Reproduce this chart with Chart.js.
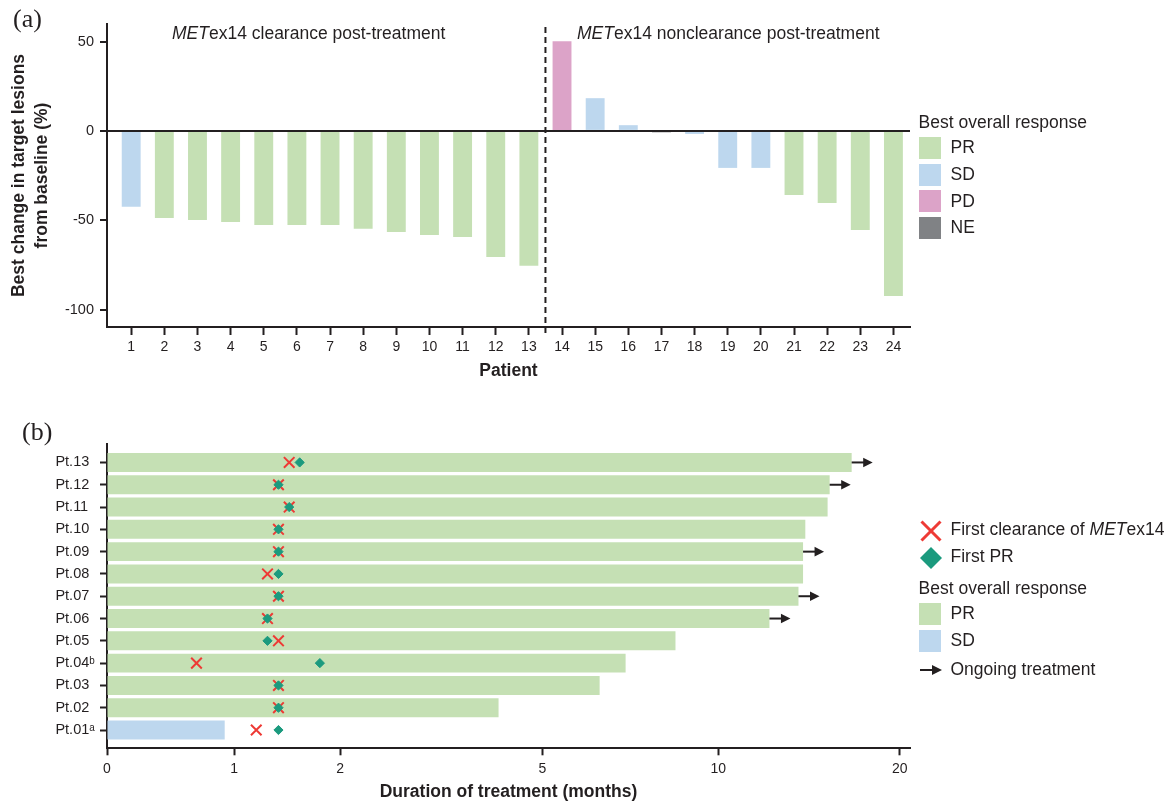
<!DOCTYPE html>
<html>
<head>
<meta charset="utf-8">
<title>METex14 clearance and response</title>
<script src="https://cdn.jsdelivr.net/npm/chart.js@4.4.1/dist/chart.umd.min.js"></script>
<style>
  html, body { margin:0; padding:0; background:#fff; }
  body { width:1165px; height:802px; position:relative; overflow:hidden;
         font-family:"Liberation Sans", Arial, sans-serif; color:#231f20; }
  .wrap { position:absolute; left:0; width:1165px; }
  #wrapA { top:0; height:400px; }
  #wrapB { top:400px; height:402px; }
  .txt { position:absolute; white-space:nowrap; line-height:1; }
  .panel { font-family:"Liberation Serif","Times New Roman",serif; font-size:26px; }
  .lg { font-size:17.5px; }
  .sw { position:absolute; width:22px; height:22px; }
  svg.ic { position:absolute; overflow:visible; }
</style>
</head>
<body>
<div id="wrapA" class="wrap"><canvas id="chartA"></canvas></div>
<div id="wrapB" class="wrap"><canvas id="chartB"></canvas></div>

<div class="txt panel" style="left:13px;top:6px;">(a)</div>
<div class="txt panel" style="left:22px;top:419px;">(b)</div>
<div class="txt lg" style="left:172px;top:24.7px;"><i>MET</i>ex14 clearance post-treatment</div>
<div class="txt lg" style="left:577px;top:24.7px;"><i>MET</i>ex14 nonclearance post-treatment</div>
<div id="legendA"></div>
<div id="legendB"></div>

<script>
// ---------------- Panel (a) data ----------------
const PATIENTS = [1,2,3,4,5,6,7,8,9,10,11,12,13,14,15,16,17,18,19,20,21,22,23,24];
const BEST_CHANGE = [-42.5,-48.7,-49.8,-50.9,-52.6,-52.6,-52.6,-54.8,-56.5,-58.2,-59.3,-70.5,-75.5,
                     50.2,18.3,3.2,-0.8,-1.7,-20.7,-20.7,-35.8,-40.3,-55.4,-92.3];
const RESPONSE_A = ['SD','PR','PR','PR','PR','PR','PR','PR','PR','PR','PR','PR','PR',
                    'PD','SD','SD','NE','SD','SD','SD','PR','PR','PR','PR'];
const N_CLEARANCE = 13;
const Y_TICKS_A = [50, 0, -50, -100];
const Y_TITLE_A = ['Best change in target lesions', 'from baseline (%)'];
const X_TITLE_A = 'Patient';
const RESPONSE_CATS_A = ['PR','SD','PD','NE'];

// ---------------- Panel (b) data (index 0 = Pt.01) ----------------
const PT_LABELS = ['Pt.01\u1D43','Pt.02','Pt.03','Pt.04\u1D47','Pt.05','Pt.06','Pt.07',
                   'Pt.08','Pt.09','Pt.10','Pt.11','Pt.12','Pt.13'];
const DURATION = [0.92, 4.17, 6.29, 6.97, 8.47, 12.17, 13.6, 13.84, 13.84, 13.96, 15.2, 15.32, 16.66];
const FIRST_CLEARANCE = [1.19, 1.39, 1.39, 0.69, 1.39, 1.29, 1.39, 1.29, 1.39, 1.39, 1.49, 1.39, 1.49];
const FIRST_PR = [1.39, 1.39, 1.39, 1.79, 1.29, 1.29, 1.39, 1.39, 1.39, 1.39, 1.49, 1.39, 1.59];
const RESPONSE_B = ['SD','PR','PR','PR','PR','PR','PR','PR','PR','PR','PR','PR','PR'];
const ONGOING = [false,false,false,false,false,true,true,false,true,false,false,true,true];
const X_TICKS_B = [0, 1, 2, 5, 10, 20];
const X_TITLE_B = 'Duration of treatment (months)';
const RESPONSE_CATS_B = ['PR','SD'];

// ---------------- Styles ----------------
const COLORS = { PR:'#c5e0b4', SD:'#bdd7ee', PD:'#dca3c8', NE:'#808285' };
const INK = '#231f20';
const RED = '#ee3a35';
const TEAL = '#1b9a7e';

Chart.defaults.font.family = "'Liberation Sans', Arial, sans-serif";
Chart.defaults.color = INK;

// Pseudo-log (asinh) scale used by the duration axis
const ASINH_K = 2;
class AsinhScale extends Chart.LinearScale {
  _t(v) { return Math.asinh(v / ASINH_K); }
  getPixelForValue(value) {
    if (value === null || value === undefined || isNaN(value)) return NaN;
    const a = this._t(this.min), b = this._t(this.max);
    return this.getPixelForDecimal((this._t(value) - a) / (b - a));
  }
  getValueForPixel(pixel) {
    const a = this._t(this.min), b = this._t(this.max);
    return ASINH_K * Math.sinh(a + this.getDecimalForPixel(pixel) * (b - a));
  }
}
AsinhScale.id = 'asinh';
AsinhScale.defaults = Chart.LinearScale.defaults;
Chart.register(AsinhScale);

// ---------------- Chart (a) ----------------
const dividerPlugin = {
  id: 'divider',
  afterDatasetsDraw(chart) {
    const { ctx, chartArea, scales: { x } } = chart;
    const px = x.getPixelForValue((PATIENTS[N_CLEARANCE - 1] + PATIENTS[N_CLEARANCE]) / 2);
    ctx.save();
    ctx.setLineDash([6, 4]);
    ctx.lineWidth = 2;
    ctx.strokeStyle = INK;
    ctx.beginPath();
    ctx.moveTo(px, chartArea.top + 3);
    ctx.lineTo(px, chartArea.bottom + 8);
    ctx.stroke();
    ctx.restore();
  }
};

new Chart(document.getElementById('chartA'), {
  type: 'bar',
  data: {
    datasets: [{
      data: PATIENTS.map((p, i) => ({ x: p, y: BEST_CHANGE[i] })),
      backgroundColor: RESPONSE_A.map(r => COLORS[r]),
      borderWidth: 0,
      barPercentage: 0.57,
      categoryPercentage: 1
    }]
  },
  options: {
    responsive: true, maintainAspectRatio: false, animation: false,
    layout: { padding: { left: 0, right: 255, top: 24, bottom: 0 } },
    plugins: { legend: { display: false }, tooltip: { enabled: false } },
    scales: {
      x: {
        type: 'linear', min: 0.27, max: 24.5, offset: false,
        afterBuildTicks: a => { a.ticks = PATIENTS.map(v => ({ value: v })); },
        afterFit: a => { a.height = 73; },
        grid: { offset: false, drawOnChartArea: false, drawTicks: true, tickLength: 8, tickWidth: 2, tickColor: INK },
        border: { display: true, color: INK, width: 2 },
        ticks: { font: { size: 14 }, padding: 4, autoSkip: false, maxRotation: 0 },
        title: { display: true, text: X_TITLE_A, font: { size: 17.5, weight: 'bold' }, padding: { top: 0, bottom: 18 } }
      },
      y: {
        type: 'linear', min: -109.7, max: 59.8, offset: false,
        afterBuildTicks: a => { a.ticks = Y_TICKS_A.map(v => ({ value: v })); },
        afterFit: a => { a.width = 107; },
        grid: {
          color: c => (c.tick && c.tick.value === 0) ? INK : 'rgba(0,0,0,0)',
          lineWidth: 2, drawTicks: true, tickLength: 7, tickWidth: 2, tickColor: INK, z: 1
        },
        border: { display: true, color: INK, width: 2, z: 1 },
        ticks: { font: { size: 14.5 }, padding: 6 },
        title: { display: true, text: Y_TITLE_A, font: { size: 17.5, weight: 'bold', lineHeight: 1.29 }, padding: { top: 8, bottom: 0 } }
      }
    }
  },
  plugins: [dividerPlugin]
});

// ---------------- Chart (b) ----------------
const arrowPlugin = {
  id: 'ongoingArrows',
  afterDatasetsDraw(chart) {
    const { ctx, scales: { x, y } } = chart;
    ctx.save();
    ctx.strokeStyle = INK; ctx.fillStyle = INK; ctx.lineWidth = 2;
    ONGOING.forEach((on, i) => {
      if (!on) return;
      const x0 = x.getPixelForValue(DURATION[i]);
      const yc = y.getPixelForValue(i + 1);
      ctx.beginPath(); ctx.moveTo(x0, yc); ctx.lineTo(x0 + 13, yc); ctx.stroke();
      ctx.beginPath();
      ctx.moveTo(x0 + 21, yc); ctx.lineTo(x0 + 11.5, yc - 4.8); ctx.lineTo(x0 + 11.5, yc + 4.8);
      ctx.closePath(); ctx.fill();
    });
    ctx.restore();
  }
};

new Chart(document.getElementById('chartB'), {
  type: 'bar',
  data: {
    datasets: [
      { type: 'scatter', label: 'First PR', data: FIRST_PR.map((v, i) => ({ x: v, y: i + 1 })),
        pointStyle: 'rectRot', pointRadius: 4.6, pointBackgroundColor: TEAL, pointBorderColor: TEAL,
        pointBorderWidth: 1, showLine: false, order: 0 },
      { type: 'scatter', label: 'First clearance', data: FIRST_CLEARANCE.map((v, i) => ({ x: v, y: i + 1 })),
        pointStyle: 'crossRot', pointRadius: 7.5, pointBorderColor: RED, pointBackgroundColor: RED,
        pointBorderWidth: 2, showLine: false, order: 1 },
      { type: 'bar', indexAxis: 'y', data: DURATION.map((v, i) => ({ x: v, y: i + 1 })),
        backgroundColor: RESPONSE_B.map(r => COLORS[r]), borderWidth: 0,
        barPercentage: 0.85, categoryPercentage: 1, order: 2 }
    ]
  },
  options: {
    responsive: true, maintainAspectRatio: false, animation: false,
    layout: { padding: { left: 55.4, right: 255, top: 43.5, bottom: 0 } },
    plugins: { legend: { display: false }, tooltip: { enabled: false } },
    scales: {
      x: {
        type: 'asinh', min: 0, max: 20.8, offset: false,
        afterBuildTicks: a => { a.ticks = X_TICKS_B.map(v => ({ value: v })); },
        afterFit: a => { a.height = 53.7; },
        grid: { offset: false, drawOnChartArea: false, drawTicks: true, tickLength: 7, tickWidth: 2, tickColor: INK },
        border: { display: true, color: INK, width: 2 },
        ticks: { font: { size: 14 }, padding: 5, autoSkip: false, maxRotation: 0 },
        title: { display: true, text: X_TITLE_B, font: { size: 17.5, weight: 'bold', lineHeight: 1.1 }, padding: 0 }
      },
      y: {
        type: 'linear', min: 0.18, max: 13.85, offset: false,
        afterBuildTicks: a => { a.ticks = PT_LABELS.map((_, i) => ({ value: i + 1 })); },
        afterFit: a => { a.width = 51.6; },
        grid: { offset: false, drawOnChartArea: false, drawTicks: true, tickLength: 7, tickWidth: 2, tickColor: INK },
        border: { display: true, color: INK, width: 2 },
        ticks: { font: { size: 14.5 }, crossAlign: 'far', autoSkip: false, callback: v => PT_LABELS[v - 1] }
      }
    }
  },
  plugins: [arrowPlugin]
});

// ---------------- Legends (HTML) ----------------
function txt(parent, left, cy, html, size) {
  const d = document.createElement('div');
  d.className = 'txt lg';
  d.style.left = left + 'px';
  d.style.top = (cy - 0.49 * size) + 'px';
  d.style.fontSize = size + 'px';
  d.innerHTML = html;
  parent.appendChild(d);
}
function swatch(parent, left, top, color) {
  const s = document.createElement('div');
  s.className = 'sw';
  s.style.left = left + 'px'; s.style.top = top + 'px'; s.style.background = color;
  parent.appendChild(s);
}
function icon(parent, left, top, inner) {
  const ns = 'http://www.w3.org/2000/svg';
  const s = document.createElementNS(ns, 'svg');
  s.setAttribute('class', 'ic'); s.setAttribute('width', 22); s.setAttribute('height', 22);
  s.style.left = left + 'px'; s.style.top = top + 'px';
  s.innerHTML = inner;
  parent.appendChild(s);
}

const LA = document.getElementById('legendA');
txt(LA, 918.6, 122.7, 'Best overall response', 17.5);
RESPONSE_CATS_A.forEach((r, i) => {
  const top = 137 + i * 26.7;
  swatch(LA, 918.6, top, COLORS[r]);
  txt(LA, 950.5, top + 10.8, r, 17.5);
});

const LB = document.getElementById('legendB');
icon(LB, 919.5, 519.5, `<line x1="1.5" y1="1.5" x2="20.5" y2="20.5" stroke="${RED}" stroke-width="3"/><line x1="20.5" y1="1.5" x2="1.5" y2="20.5" stroke="${RED}" stroke-width="3"/>`);
txt(LB, 950.5, 529.5, 'First clearance of <i>MET</i>ex14', 17.5);
icon(LB, 919.5, 546.5, `<polygon points="11,0 22,11 11,22 0,11" fill="${TEAL}"/>`);
txt(LB, 950.5, 556.5, 'First PR', 17.5);
txt(LB, 918.6, 589, 'Best overall response', 17.5);
RESPONSE_CATS_B.forEach((r, i) => {
  const top = 603 + i * 27;
  swatch(LB, 918.6, top, COLORS[r]);
  txt(LB, 950.5, top + 10.8, r, 17.5);
});
icon(LB, 919.5, 659, `<line x1="0" y1="11" x2="13" y2="11" stroke="${INK}" stroke-width="2"/><polygon points="22,11 12,6 12,16" fill="${INK}"/>`);
txt(LB, 950.5, 669.5, 'Ongoing treatment', 17.5);
</script>
</body>
</html>
